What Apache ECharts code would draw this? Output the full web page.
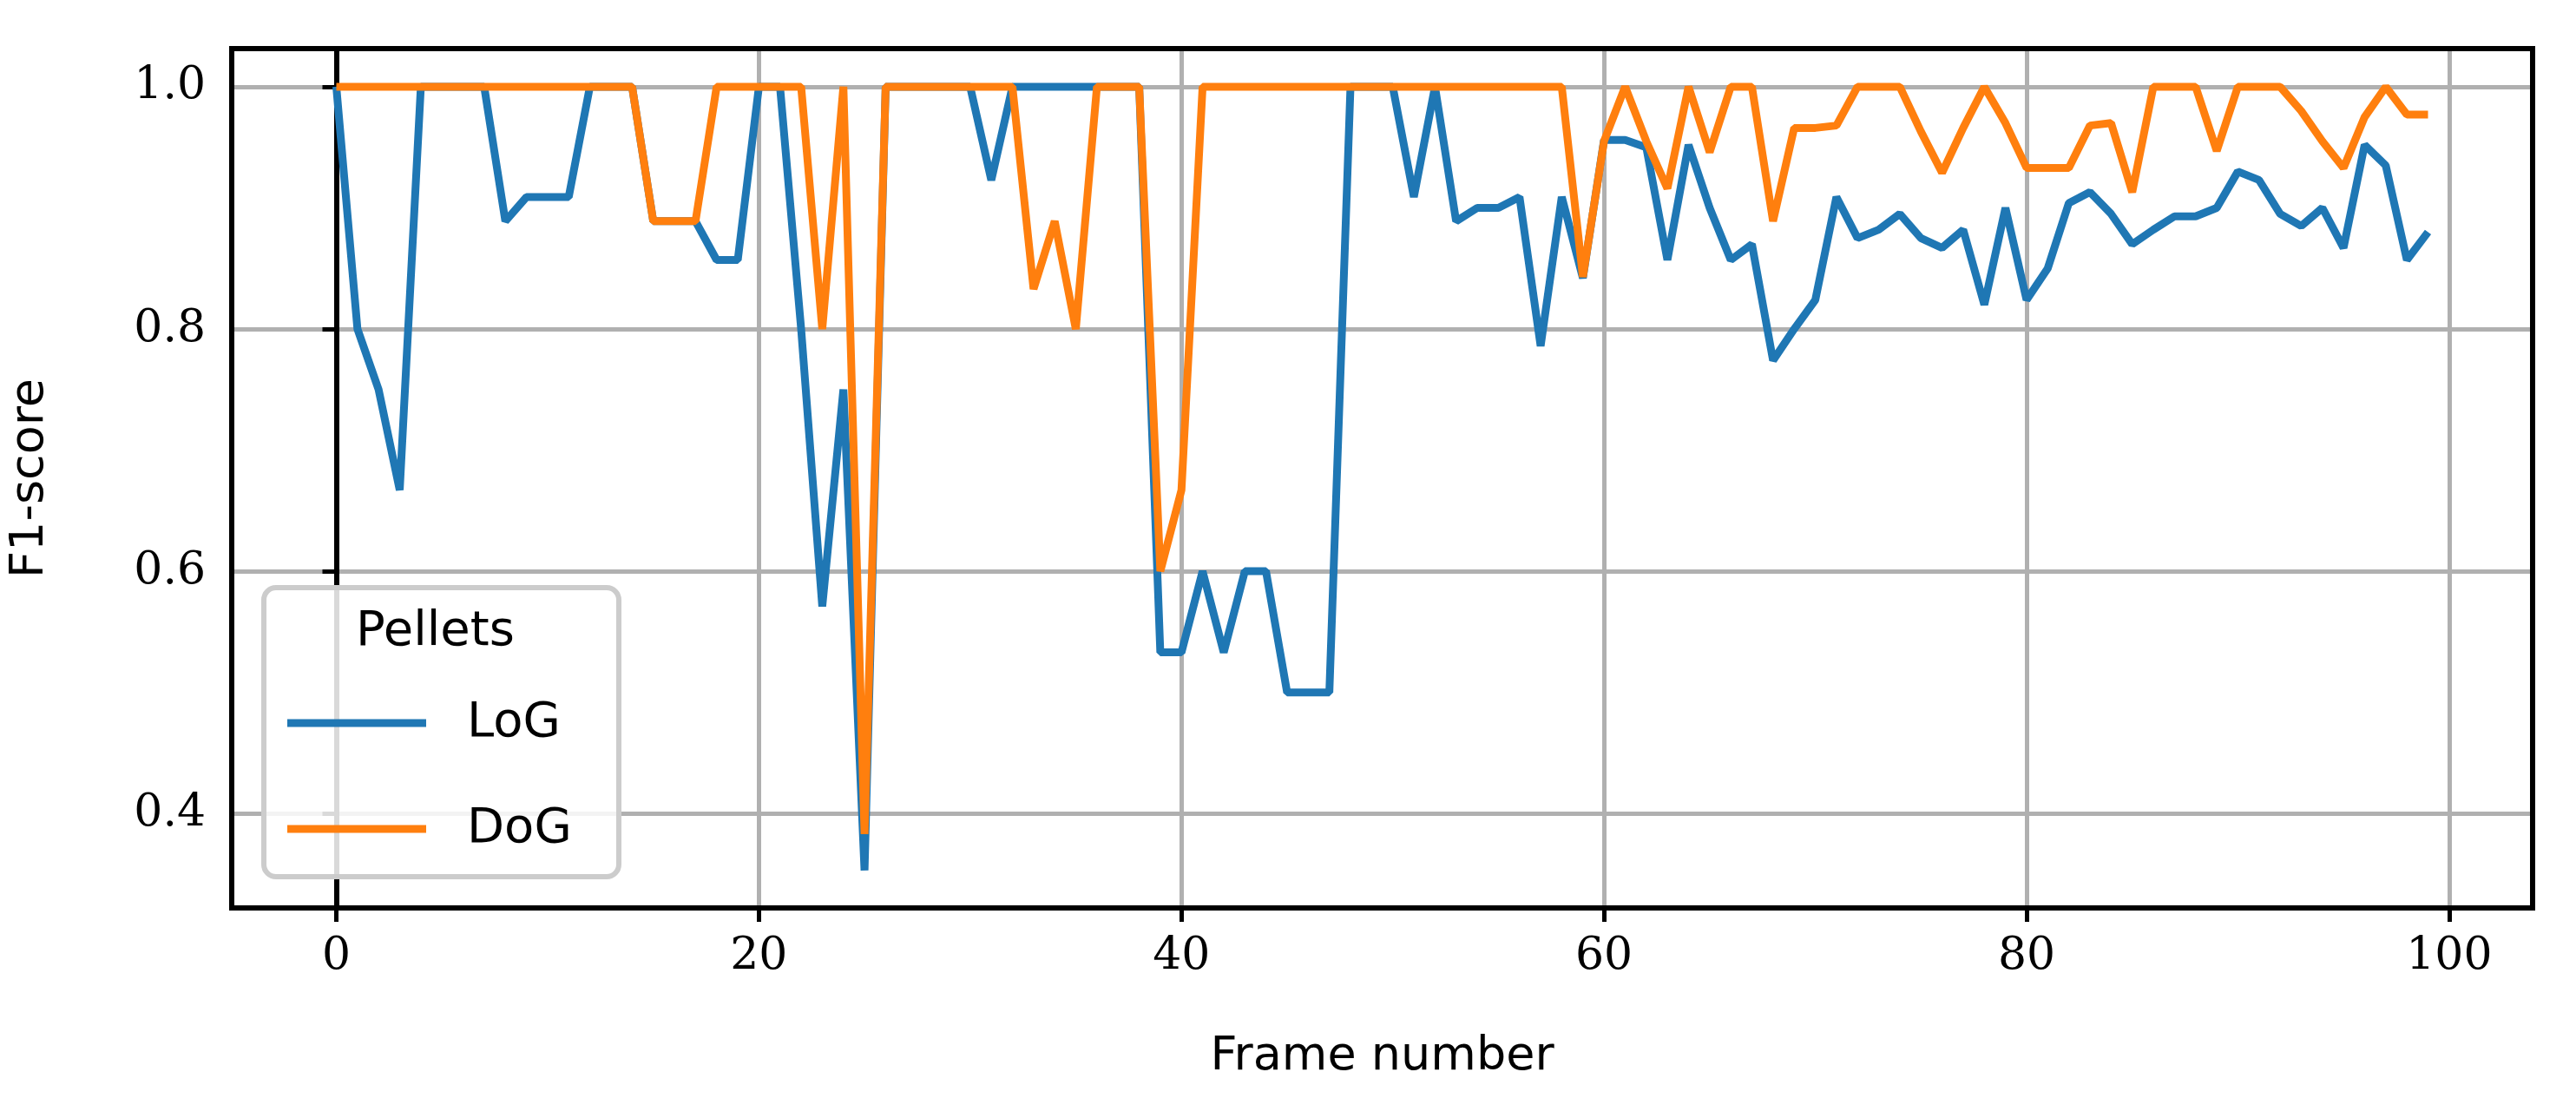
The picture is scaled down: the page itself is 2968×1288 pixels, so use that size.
<!DOCTYPE html>
<html>
<head>
<meta charset="utf-8">
<script src="https://cdn.jsdelivr.net/npm/echarts@6/dist/echarts.min.js"></script>
<style>html,body{margin:0;padding:0;background:#fff}#main{width:2968px;height:1288px}</style>
</head>
<body>
<div id="main"></div>
<script type="text/javascript">
var frames = [];
for (var i = 0; i < 100; i++) frames.push(i);

var logScores = [1.0, 0.8, 0.75, 0.667, 1, 1, 1, 1, 0.889, 0.909,
    0.909, 0.909, 1, 1, 1, 0.889, 0.889, 0.889, 0.857, 0.857,
    1, 1, 0.8, 0.571, 0.75, 0.353, 1, 1, 1, 1,
    1, 0.923, 1, 1, 1, 1, 1, 1, 1, 0.533,
    0.533, 0.6, 0.533, 0.6, 0.6, 0.5, 0.5, 0.5, 1, 1,
    1, 0.909, 1, 0.889, 0.9, 0.9, 0.909, 0.786, 0.909, 0.842,
    0.956, 0.956, 0.95, 0.857, 0.952, 0.9, 0.857, 0.87, 0.774, 0.8,
    0.824, 0.909, 0.875, 0.882, 0.895, 0.875, 0.867, 0.882, 0.82, 0.9,
    0.824, 0.85, 0.904, 0.913, 0.895, 0.87, 0.882, 0.893, 0.893, 0.9,
    0.93, 0.923, 0.895, 0.885, 0.9, 0.867, 0.952, 0.935, 0.857, 0.88];

var dogScores = [1, 1, 1, 1, 1, 1, 1, 1, 1, 1,
    1, 1, 1, 1, 1, 0.889, 0.889, 0.889, 1, 1,
    1, 1, 1, 0.8, 1, 0.383, 1, 1, 1, 1,
    1, 1, 1, 0.833, 0.889, 0.8, 1, 1, 1, 0.6,
    0.667, 1, 1, 1, 1, 1, 1, 1, 1, 1,
    1, 1, 1, 1, 1, 1, 1, 1, 1, 0.843,
    0.955, 1, 0.955, 0.916, 1, 0.946, 1, 1, 0.889, 0.966,
    0.966, 0.968, 1, 1, 1, 0.963, 0.929, 0.966, 1, 0.97,
    0.933, 0.933, 0.933, 0.968, 0.97, 0.913, 1, 1, 1, 0.947,
    1, 1, 1, 0.98, 0.955, 0.933, 0.975, 1, 0.977, 0.977];

var xTicks = [0, 20, 40, 60, 80, 100];
var yTicks = [0.4, 0.6, 0.8, 1.0];

function pairs(ys) {
    return frames.map(function (x, i) { return [x, ys[i]]; });
}

var chart = echarts.init(document.getElementById('main'));
var tickFont = {fontFamily: 'DejaVu Serif', fontSize: 52, color: '#000'};
var option = {
    backgroundColor: '#fff',
    animation: false,
    grid: {left: 262, right: 50, top: 56, bottom: 242, show: true, borderColor: '#000', borderWidth: 6, z: 10},
    xAxis: {
        type: 'value', min: -4.95, max: 103.95,
        name: 'Frame number', nameLocation: 'middle', nameGap: 145,
        nameTextStyle: {fontFamily: 'DejaVu Sans', fontSize: 54, color: '#000'},
        axisLine: {show: true, lineStyle: {color: '#000', width: 6}},
        axisTick: {show: true, customValues: xTicks, length: 16, lineStyle: {color: '#000', width: 5}},
        axisLabel: Object.assign({customValues: xTicks, margin: 30}, tickFont),
        splitLine: {show: true, lineStyle: {color: '#b0b0b0', width: 5}}
    },
    yAxis: {
        type: 'value', min: 0.322, max: 1.0315,
        name: 'F1-score', nameLocation: 'middle', nameGap: 205,
        nameTextStyle: {fontFamily: 'DejaVu Sans', fontSize: 54, color: '#000'},
        axisLine: {show: true, lineStyle: {color: '#000', width: 6}},
        axisTick: {show: true, customValues: yTicks, length: 16, lineStyle: {color: '#000', width: 5}},
        axisLabel: Object.assign({customValues: yTicks, margin: 30, formatter: function (v) { return v.toFixed(1); }}, tickFont),
        splitLine: {show: true, lineStyle: {color: '#b0b0b0', width: 5}}
    },
    legend: {
        orient: 'vertical', left: 326, top: 800, z: 200,
        itemWidth: 160, itemHeight: 9, itemGap: 66, icon: 'rect',
        textStyle: {fontFamily: 'DejaVu Sans', fontSize: 56, color: '#000', padding: [0, 0, 0, 42]},
        data: ['LoG', 'DoG']
    },
    graphic: [
        {type: 'rect', left: 301, top: 674, z: 100,
         shape: {width: 409, height: 333, r: 14},
         style: {fill: 'rgba(255,255,255,0.85)', stroke: '#cccccc', lineWidth: 6}},
        {type: 'text', left: 410, top: 700, z: 110,
         style: {text: 'Pellets', font: '56px "DejaVu Sans"', fill: '#000'}}
    ],
    series: [
        {name: 'LoG', type: 'line', data: pairs(logScores), symbol: 'none',
         lineStyle: {color: '#1f77b4', width: 9}, itemStyle: {color: '#1f77b4'}},
        {name: 'DoG', type: 'line', data: pairs(dogScores), symbol: 'none',
         lineStyle: {color: '#ff7f0e', width: 9}, itemStyle: {color: '#ff7f0e'}}
    ]
};
chart.setOption(option);
</script>
</body>
</html>
